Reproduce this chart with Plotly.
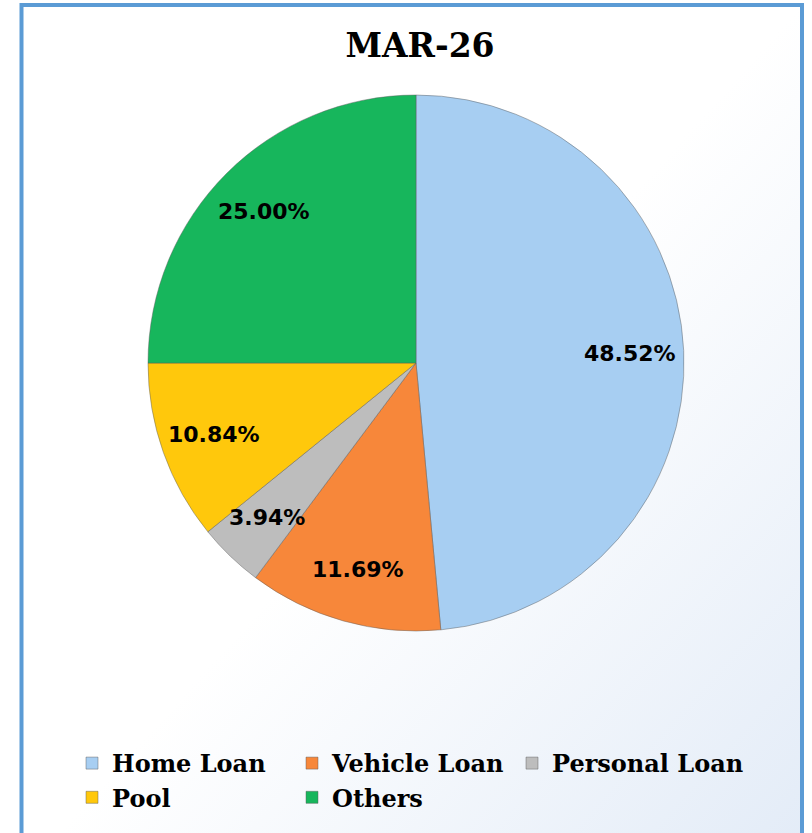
import math
import base64
import plotly.graph_objects as go

# ---- data ----
categories = ["Home Loan", "Vehicle Loan", "Personal Loan", "Pool", "Others"]
shares = [48.52, 11.69, 3.94, 10.84, 25.00]
title_text = "MAR-26"

# ---- styles ----
colors = ["#A7CEF2", "#F7873A", "#BDBDBD", "#FFC80C", "#17B65C"]
W, H = 812, 833
dom_x = [148 / W, 684 / W]
dom_y = [1 - 631 / H, 1 - 95 / H]

fig = go.Figure()
fig.add_trace(go.Pie(
    labels=categories,
    values=shares,
    sort=False,
    direction="clockwise",
    rotation=0,
    textinfo="none",
    hoverinfo="label+percent",
    marker=dict(colors=colors, line=dict(color="rgba(90,90,90,0.45)", width=1)),
    domain=dict(x=dom_x, y=dom_y),
    showlegend=True,
))

# label positions derived from the slice angles
cx = (dom_x[0] + dom_x[1]) / 2 * W
cy = (1 - (dom_y[0] + dom_y[1]) / 2) * H
R = (dom_x[1] - dom_x[0]) * W / 2
total = sum(shares)
annotations = []
cum = 0.0
for v in shares:
    mid = (cum + v / 2) / total * 2 * math.pi
    cum += v
    px = cx + 0.8 * R * math.sin(mid)
    py = cy - 0.8 * R * math.cos(mid)
    annotations.append(dict(
        x=px / W, y=1 - py / H, xref="paper", yref="paper",
        text=f"{v:.2f}%", showarrow=False, xanchor="center", yanchor="middle",
        font=dict(family="DejaVu Sans", size=22, color="black", weight="bold"),
    ))

# background gradient
svg = ('<svg xmlns="http://www.w3.org/2000/svg" width="100" height="100" viewBox="0 0 100 100" '
       'preserveAspectRatio="none"><defs><linearGradient id="g" x1="0" y1="0" x2="1" y2="1">'
       '<stop offset="0" stop-color="#ffffff"/><stop offset="0.5" stop-color="#ffffff"/>'
       '<stop offset="1" stop-color="#e2ebf7"/></linearGradient></defs>'
       '<rect width="100" height="100" fill="url(#g)"/></svg>')
src = "data:image/svg+xml;base64," + base64.b64encode(svg.encode()).decode()

bx0, bx1, by0 = 21.5 / W, 802 / W, 1 - 5 / H

fig.update_layout(
    width=W, height=H,
    margin=dict(l=0, r=0, t=0, b=0),
    paper_bgcolor="white",
    plot_bgcolor="rgba(0,0,0,0)",
    title=dict(text=f"<b>{title_text}</b>", x=420 / W, xanchor="center",
               y=1 - 45 / H, yanchor="middle",
               font=dict(family="DejaVu Serif", size=33, color="black")),
    images=[dict(source=src, xref="paper", yref="paper", x=bx0, y=by0,
                 sizex=bx1 - bx0, sizey=by0 + 0.05, sizing="stretch",
                 layer="below", xanchor="left", yanchor="top")],
    shapes=[dict(type="rect", xref="paper", yref="paper", x0=bx0, x1=bx1,
                 y0=-0.05, y1=by0, line=dict(color="#5B9BD5", width=4),
                 fillcolor="rgba(0,0,0,0)")],
    annotations=annotations,
    legend=dict(orientation="h", x=72 / W, xanchor="left", y=1 - 741 / H, yanchor="top",
                font=dict(family="DejaVu Serif", size=24, color="black", weight="bold"),
                entrywidth=175, entrywidthmode="pixels",
                bgcolor="rgba(0,0,0,0)", traceorder="normal"),
)

fig.write_html(
    "out.html",
    config={"displayModeBar": False},
    post_script=(
        "document.body.style.margin='0';document.body.style.overflow='hidden';"
        "document.querySelectorAll('g.legend g.scrollbox').forEach(function(e){"
        "e.removeAttribute('clip-path');});"
    ),
)
